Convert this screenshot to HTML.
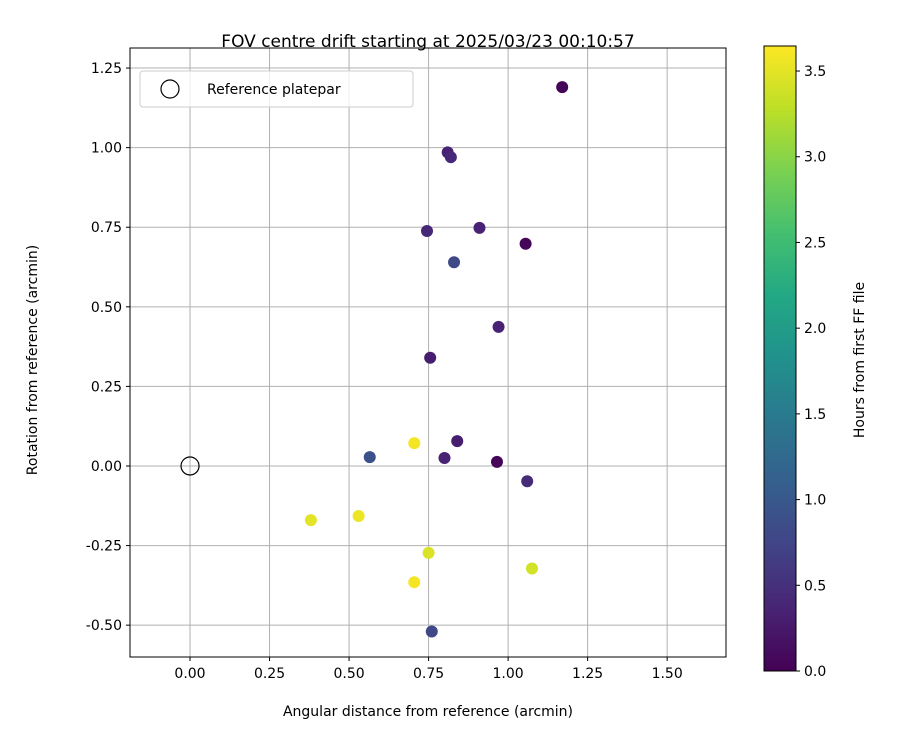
<!DOCTYPE html>
<html><head><meta charset="utf-8"><style>body{margin:0;background:#fff}svg{font-family:"DejaVu Sans","Liberation Sans",sans-serif}</style></head>
<body>
<svg id="c" width="900" height="750">
<defs><linearGradient id="vir" x1="0" y1="1" x2="0" y2="0">
<stop offset="0" stop-color="#440154"/><stop offset="0.1" stop-color="#482475"/><stop offset="0.2" stop-color="#414487"/><stop offset="0.3" stop-color="#355f8d"/><stop offset="0.4" stop-color="#2a788e"/><stop offset="0.5" stop-color="#21918c"/><stop offset="0.6" stop-color="#22a884"/><stop offset="0.7" stop-color="#44bf70"/><stop offset="0.8" stop-color="#7ad151"/><stop offset="0.9" stop-color="#bddf26"/><stop offset="1" stop-color="#fde725"/></linearGradient></defs>
</svg>
<script>
const xs=[1.17,0.81,0.82,0.745,0.91,1.055,0.83,0.97,0.755,0.84,0.80,0.965,1.06,0.565,0.705,0.38,0.53,0.75,0.705,1.075,0.76];
const ys=[1.19,0.985,0.97,0.738,0.748,0.698,0.64,0.437,0.34,0.078,0.025,0.013,-0.048,0.028,0.072,-0.17,-0.157,-0.273,-0.365,-0.322,-0.52];
const hours=[0.05,0.35,0.4,0.4,0.35,0.05,0.8,0.35,0.3,0.3,0.35,0.05,0.45,0.9,3.6,3.5,3.55,3.45,3.6,3.4,0.8];
const xTicks=[0,0.25,0.5,0.75,1,1.25,1.5];
const yTicks=[-0.5,-0.25,0,0.25,0.5,0.75,1,1.25];
const cTicks=[0,0.5,1,1.5,2,2.5,3,3.5];
const svg=document.getElementById('c');const NS='http://www.w3.org/2000/svg';
const L=130,R=726,T=48,B=657,xmin=-0.1887,xmax=1.685,ymin=-0.600,ymax=1.313;
const X=v=>L+(v-xmin)/(xmax-xmin)*(R-L), Y=v=>B-(v-ymin)/(ymax-ymin)*(B-T);
const cmin=0,CT=46,CB=671;
const CY=v=>CB-(v-cmin)/(3.646-cmin)*(CB-CT);
function mk(t,a,txt){const e=document.createElementNS(NS,t);for(const k in a)e.setAttribute(k,a[k]);if(txt!==undefined)e.textContent=txt;svg.appendChild(e);return e;}
const V=[[68,1,84],[72,36,117],[65,68,135],[53,95,141],[42,120,142],[33,145,140],[34,168,132],[68,191,112],[122,209,81],[189,223,38],[253,231,37]];
function vir(t){t=Math.max(0,Math.min(1,t))*10;const i=Math.min(9,Math.floor(t)),f=t-i;const c=V[i].map((a,j)=>Math.round(a+(V[i+1][j]-a)*f));return `rgb(${c})`;}
xTicks.forEach(v=>{let e=mk('line',{x1:X(v),x2:X(v),y1:T,y2:B,stroke:'#b0b0b0','stroke-width':1});

mk('line',{x1:X(v),x2:X(v),y1:B,y2:B+4,stroke:'#000'});
e=mk('text',{x:X(v),y:B+21,'text-anchor':'middle','font-size':14},v.toFixed(2));
});
yTicks.forEach(v=>{let e=mk('line',{x1:L,x2:R,y1:Y(v),y2:Y(v),stroke:'#b0b0b0','stroke-width':1});

mk('line',{x1:L-4,x2:L,y1:Y(v),y2:Y(v),stroke:'#000'});
e=mk('text',{x:L-8,y:Y(v)+5,'text-anchor':'end','font-size':14},v.toFixed(2));
});
let ref=mk('circle',{cx:X(0),cy:Y(0),r:9,fill:'none',stroke:'#000','stroke-width':1.2});

xs.forEach((x,i)=>{const e=mk('circle',{cx:X(x),cy:Y(ys[i]),r:6,fill:vir(hours[i]/3.646)});
});
let f=mk('rect',{x:L,y:T,width:R-L,height:B-T,fill:'none',stroke:'#000'});

let lg=mk('rect',{x:140,y:71,width:273,height:36,rx:3,fill:'#fff','fill-opacity':0.8,stroke:'#ccc'});

mk('circle',{cx:170,cy:89,r:9,fill:'none',stroke:'#000','stroke-width':1.2});
let lt=mk('text',{x:207,y:94,'font-size':14},'Reference platepar');

let t=mk('text',{x:428,y:47,'text-anchor':'middle','font-size':17},'FOV centre drift starting at 2025/03/23 00:10:57');

t=mk('text',{x:428,y:716,'text-anchor':'middle','font-size':14},'Angular distance from reference (arcmin)');

t=mk('text',{x:37,y:360,'text-anchor':'middle','font-size':14,transform:'rotate(-90 37 360)'},'Rotation from reference (arcmin)');

let cb=mk('rect',{x:764,y:CT,width:32,height:CB-CT,fill:'url(#vir)',stroke:'#000'});

cTicks.forEach(v=>{mk('line',{x1:796,x2:800,y1:CY(v),y2:CY(v),stroke:'#000'});
const e=mk('text',{x:804,y:CY(v)+5,'font-size':14},v.toFixed(1));
});
t=mk('text',{x:864,y:360,'text-anchor':'middle','font-size':14,transform:'rotate(-90 864 360)'},'Hours from first FF file');

</script>
</body></html>
